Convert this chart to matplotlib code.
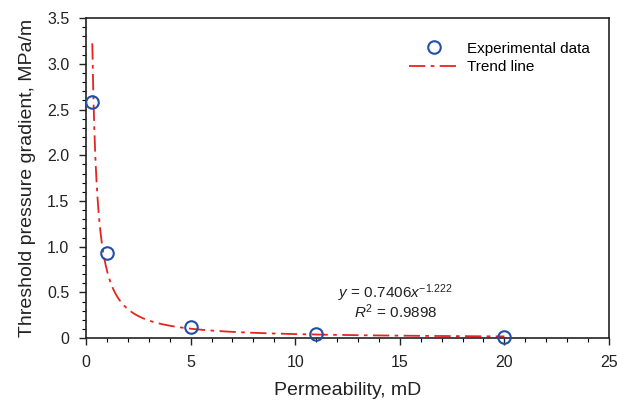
import numpy as np
import matplotlib
matplotlib.use('Agg')
import matplotlib.pyplot as plt
from matplotlib.ticker import MultipleLocator

plt.rcParams['font.family'] = ['Liberation Sans', 'DejaVu Sans']
plt.rcParams['mathtext.fontset'] = 'custom'
plt.rcParams['mathtext.it'] = 'Liberation Sans:italic'
plt.rcParams['mathtext.rm'] = 'Liberation Sans'

# Experimental data
permeability = [0.3, 1, 5, 11, 20]
gradient = [2.58, 0.93, 0.12, 0.045, 0.015]

# Power-law trend line y = a * x^b (from the fitted equation)
coef_a = 0.7406
coef_b = -1.222
r_squared = 0.9898

fig = plt.figure(figsize=(6.17, 4.04), dpi=100)
ax = fig.add_axes([0.1394, 0.163, 0.8476, 0.792])

x_fit = np.linspace(min(permeability), max(permeability), 400)
y_fit = coef_a * x_fit ** coef_b
ax.plot(x_fit, y_fit, color='#e8231f', lw=1.3, linestyle=(0, (9, 3, 2, 3)),
        label='Trend line', zorder=2)
ax.plot(permeability, gradient, linestyle='none', marker='o', markersize=9,
        markerfacecolor='none', markeredgecolor='#1f4fa8', markeredgewidth=1.5,
        label='Experimental data', zorder=3, clip_on=False)

ax.set_xlim(0, 25)
ax.set_ylim(0, 3.5)
ax.xaxis.set_major_locator(MultipleLocator(5))
ax.xaxis.set_minor_locator(MultipleLocator(1))
ax.yaxis.set_minor_locator(MultipleLocator(0.1))
ax.set_yticks(np.arange(0, 3.51, 0.5))
ax.set_yticklabels(['0'] + [f'{v:.1f}' for v in np.arange(0.5, 3.51, 0.5)])
ax.tick_params(which='major', direction='out', length=5, width=1, labelsize=11.5,
               colors='#222222', pad=7)
ax.tick_params(which='minor', direction='out', length=3, width=0.8)
for s in ax.spines.values():
    s.set_color('#222222')
    s.set_linewidth(1.2)

ax.set_xlabel('Permeability, mD', fontsize=14, labelpad=9, color='#222222')
ax.set_ylabel('Threshold pressure gradient, MPa/m', fontsize=14, labelpad=8,
              color='#222222')

ax.text(14.8, 0.44, r'$y$ = 0.7406$x^{-1.222}$', fontsize=11, ha='center',
        color='#222222')
ax.text(14.8, 0.22, r'$R^2$ = ' + f'{r_squared}', fontsize=11, ha='center',
        color='#222222')

handles, labels = ax.get_legend_handles_labels()
ax.legend(handles[::-1], labels[::-1], loc='upper right',
          bbox_to_anchor=(0.99, 0.97), frameon=False, fontsize=11,
          handlelength=3.2, handletextpad=0.6, labelspacing=0.3)

fig.savefig('out.png', dpi=100)
